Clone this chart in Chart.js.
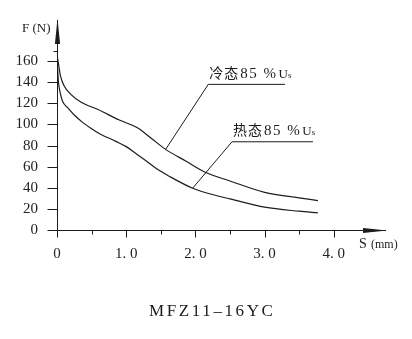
<!DOCTYPE html>
<html lang="zh">
<head>
<meta charset="UTF-8">
<title>MFZ11-16YC</title>
<script src="https://cdn.jsdelivr.net/npm/chart.js"></script>
<style>
  body { margin: 0; padding: 0; background: #fff; }
  #wrap { width: 412px; height: 339px; }
</style>
</head>
<body>
<div id="wrap"><canvas id="fs" width="412" height="339"></canvas></div>
<script>
// force (N) vs stroke (mm), cold and hot coil at 85% Us
const coldS = [0, 0.02, 0.05, 0.1, 0.2, 0.35, 0.6, 0.9, 1.08, 1.18, 1.28, 1.38, 1.57, 1.86, 2.15, 2.49, 3.0, 3.5, 3.77];
const coldF = [166, 158, 146, 137, 128.5, 121, 114, 104.2, 99.5, 96.2, 91.3, 86, 76.4, 65.4, 54.5, 46.7, 35.7, 30.5, 27.9];
const hotS  = [0, 0.01, 0.02, 0.05, 0.08, 0.16, 0.25, 0.37, 0.5, 0.61, 0.85, 1.0, 1.14, 1.3, 1.43, 1.62, 1.96, 2.34, 2.5, 3.0, 3.5, 3.77];
const hotF  = [166, 152, 141, 129, 122, 115.5, 109, 102, 96, 91.5, 84, 79, 72.5, 65, 58.5, 51, 39.6, 32, 29.5, 21.6, 17.8, 16.3];

const xTicks = [0, 1, 2, 3, 4];
const xTickLabels = ['0', '1. 0', '2. 0', '3. 0', '4. 0'];
const xMinor = [0.5, 1.5, 2.5, 3.5];
const yTicks = [0, 20, 40, 60, 80, 100, 120, 140, 160];
const yMinor = [170];

const coldLabel = ['冷态', '85 %', 'U', 's'];
const hotLabel  = ['热态', '85 %', 'U', 's'];
const title = 'MFZ11\u201316YC';

const INK = '#1c1c1c';
const SERIF = "'Liberation Serif', 'DejaVu Serif', serif";
const CJK = "'Noto Sans CJK SC', sans-serif";

// leader lines: start on a curve point, elbow, then a flat run to the right
const leaders = [
  { s: coldS, f: coldF, idx: 12, elbow: [2.186, 138], end: 3.295, text: coldLabel },
  { s: hotS,  f: hotF,  idx: 16, elbow: [2.529, 83.6], end: 3.699, text: hotLabel }
];

function line(ctx, x1, y1, x2, y2) {
  ctx.beginPath(); ctx.moveTo(x1, y1); ctx.lineTo(x2, y2); ctx.stroke();
}

function drawLabel(ctx, parts, x, y) {
  const fonts = [
    ['400 14px ' + CJK, '1px', 0],
    ['400 15px ' + SERIF, '1.5px', 1],
    ['400 13px ' + SERIF, '0px', 1],
    ['400 9px ' + SERIF, '0px', 0]
  ];
  parts.forEach((t, i) => {
    const [font, ls, gap] = fonts[i];
    ctx.font = font;
    ctx.letterSpacing = ls;
    x += gap;
    ctx.fillText(t, x, y);
    x += ctx.measureText(t).width;
  });
  ctx.letterSpacing = '0px';
}

const decor = {
  id: 'decor',
  afterDraw(chart) {
    const { ctx, chartArea: a, scales: { x, y } } = chart;
    ctx.save();
    ctx.strokeStyle = INK;
    ctx.fillStyle = INK;
    ctx.lineWidth = 1;

    // tick marks
    const bx = Math.round(a.left) + 0.5, by = Math.round(a.bottom) + 0.5;
    xTicks.forEach(v => { const px = Math.round(x.getPixelForValue(v)) + 0.5; line(ctx, px, by, px, by + 7); });
    xMinor.forEach(v => { const px = Math.round(x.getPixelForValue(v)) + 0.5; line(ctx, px, by, px, by + 4); });
    yTicks.forEach(v => { const py = Math.round(y.getPixelForValue(v)) + 0.5; line(ctx, bx - 10, py, bx, py); });
    yMinor.forEach(v => { const py = Math.round(y.getPixelForValue(v)) + 0.5; line(ctx, bx - 4, py, bx, py); });

    // axis arrows
    ctx.beginPath();
    ctx.moveTo(bx, a.top - 1.5); ctx.lineTo(bx - 2.6, a.top + 24); ctx.lineTo(bx + 2.6, a.top + 24);
    ctx.closePath(); ctx.fill();
    ctx.beginPath();
    ctx.moveTo(a.right + 2, by); ctx.lineTo(a.right - 22, by - 2.6); ctx.lineTo(a.right - 22, by + 2.6);
    ctx.closePath(); ctx.fill();

    // leader lines and their labels
    ctx.textBaseline = 'alphabetic';
    ctx.textAlign = 'left';
    leaders.forEach(l => {
      const p0x = x.getPixelForValue(l.s[l.idx]), p0y = y.getPixelForValue(l.f[l.idx]);
      const ex = x.getPixelForValue(l.elbow[0]), ey = y.getPixelForValue(l.elbow[1]);
      const rx = x.getPixelForValue(l.end);
      ctx.beginPath();
      ctx.moveTo(p0x, p0y); ctx.lineTo(ex, ey); ctx.lineTo(rx, ey);
      ctx.stroke();
      drawLabel(ctx, l.text, ex + 1, ey - 6.5);
    });

    // axis names
    ctx.font = '400 13px ' + SERIF;
    ctx.fillText('F (N)', 22, 31.5);
    ctx.font = '400 14px ' + SERIF;
    ctx.fillText('S', 359, 248);
    ctx.font = '400 12px ' + SERIF;
    ctx.fillText('(mm)', 371, 248);

    // model name under the chart
    ctx.font = '400 17px ' + SERIF;
    ctx.letterSpacing = '2.6px';
    const w = ctx.measureText(title).width - 2.6;
    ctx.fillText(title, 211 - w / 2, 316);
    ctx.restore();
  }
};

new Chart(document.getElementById('fs'), {
  type: 'scatter',
  data: {
    datasets: [
      { label: '冷态85%Us', data: coldS.map((s, i) => ({ x: s, y: coldF[i] })) },
      { label: '热态85%Us', data: hotS.map((s, i) => ({ x: s, y: hotF[i] })) }
    ]
  },
  options: {
    responsive: false,
    animation: false,
    devicePixelRatio: 1,
    layout: { padding: { top: 18, right: 27, bottom: 49, left: 0 } },
    elements: {
      point: { radius: 0 },
      line: { borderColor: INK, borderWidth: 1.2, cubicInterpolationMode: 'monotone' }
    },
    datasets: { scatter: { showLine: true, pointRadius: 0 } },
    plugins: { legend: { display: false }, tooltip: { enabled: false } },
    scales: {
      x: {
        type: 'linear', min: 0, max: 4.74,
        grid: { display: false },
        border: { display: true, color: INK, width: 1 },
        afterFit: s => { s.height = 60; },
        afterBuildTicks: s => { s.ticks = xTicks.map(v => ({ value: v })); },
        ticks: {
          color: '#222', padding: 7, maxRotation: 0,
          font: { family: SERIF, size: 15 },
          callback: v => xTickLabels[xTicks.indexOf(v)]
        }
      },
      y: {
        type: 'linear', min: 0, max: 199,
        grid: { display: false },
        border: { display: true, color: INK, width: 1 },
        afterFit: s => { s.width = 57; },
        afterBuildTicks: s => { s.ticks = yTicks.map(v => ({ value: v })); },
        ticks: {
          color: '#222', padding: 11,
          font: { family: SERIF, size: 15 }
        }
      }
    }
  },
  plugins: [decor]
});
</script>
</body>
</html>
